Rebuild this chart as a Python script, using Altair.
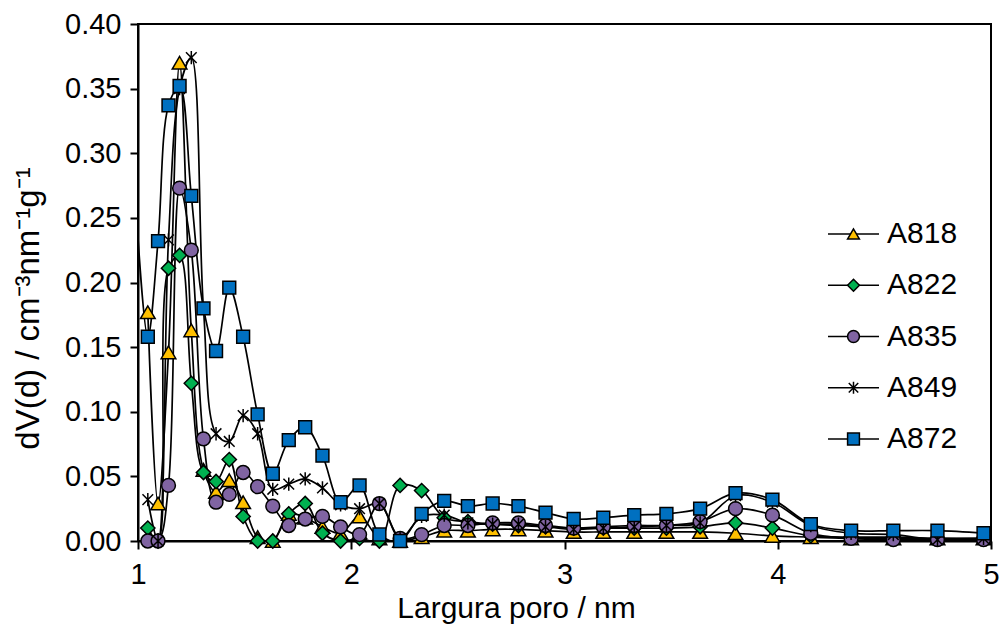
import altair as alt
import pandas as pd

# ---- data ----
SERIES = ["A818", "A822", "A835", "A849", "A872"]

PORE_X = [1.046, 1.094, 1.143, 1.195, 1.250, 1.307, 1.366, 1.428, 1.493, 1.561,
          1.632, 1.707, 1.784, 1.865, 1.950, 2.039, 2.132, 2.229, 2.330, 2.436,
          2.547, 2.663, 2.784, 2.911, 3.043, 3.182, 3.327, 3.478, 3.636, 3.802,
          3.975, 4.155, 4.344, 4.542, 4.749, 4.965]

A818 = [0.177, 0.029, 0.146, 0.370, 0.163, 0.055, 0.038, 0.047, 0.030, 0.003,
        0.000, 0.021, 0.018, 0.011, 0.006, 0.019, 0.002, 0.000, 0.003, 0.008,
        0.008, 0.009, 0.009, 0.008, 0.007, 0.007, 0.007, 0.007, 0.007, 0.006,
        0.004, 0.003, 0.002, 0.002, 0.002, 0.002]
A822 = [0.010, 0.000, 0.211, 0.221, 0.122, 0.053, 0.046, 0.063, 0.019, 0.000,
        0.000, 0.021, 0.029, 0.006, 0.000, 0.002, 0.000, 0.043, 0.039, 0.018,
        0.015, 0.013, 0.012, 0.011, 0.010, 0.010, 0.010, 0.010, 0.011, 0.014,
        0.010, 0.004, 0.003, 0.003, 0.002, 0.002]
A835 = [0.000, 0.000, 0.043, 0.273, 0.225, 0.079, 0.030, 0.036, 0.053, 0.042,
        0.027, 0.012, 0.017, 0.019, 0.011, 0.005, 0.029, 0.002, 0.005, 0.012,
        0.012, 0.014, 0.014, 0.012, 0.010, 0.011, 0.012, 0.012, 0.015, 0.025,
        0.020, 0.006, 0.002, 0.001, 0.001, 0.001]
A849 = [0.032, 0.000, 0.233, 0.350, 0.374, 0.180, 0.083, 0.077, 0.097, 0.083,
        0.040, 0.044, 0.048, 0.041, 0.028, 0.025, 0.029, 0.002, 0.019, 0.020,
        0.014, 0.013, 0.013, 0.011, 0.009, 0.010, 0.011, 0.012, 0.014, 0.035,
        0.030, 0.012, 0.006, 0.005, 0.001, 0.002]
A872 = [0.158, 0.232, 0.337, 0.352, 0.267, 0.180, 0.147, 0.196, 0.158, 0.098,
        0.052, 0.078, 0.088, 0.066, 0.030, 0.043, 0.005, 0.000, 0.021, 0.031,
        0.027, 0.029, 0.027, 0.022, 0.017, 0.018, 0.020, 0.021, 0.025, 0.037,
        0.032, 0.013, 0.008, 0.008, 0.008, 0.006]
# A872 line enters from the left of the axis (point below 1 nm, clipped)
A872_LEAD_X = [0.99]
A872_LEAD_Y = [0.26]

X_TICKS = [1, 2, 3, 4, 5]
Y_TICKS = [0.00, 0.05, 0.10, 0.15, 0.20, 0.25, 0.30, 0.35, 0.40]

FILLS = ["#FFC000", "#00B050", "#8064A2", "#000000", "#0070C0"]
ASTER = "M-0.8,-0.8L0.8,0.8M-0.8,0.8L0.8,-0.8M0,-1L0,1"
SHAPES = ["triangle-up", "diamond", "circle", ASTER, "square"]
SIZES = [215, 165, 220, 175, 235]

values = {"A818": A818, "A822": A822, "A835": A835, "A849": A849, "A872": A872}
rows = []
for k, s in enumerate(SERIES):
    if s == "A872":
        for xv, yv in zip(A872_LEAD_X, A872_LEAD_Y):
            rows.append({"x": xv, "y": yv, "series": s, "k": k})
    for xv, yv in zip(PORE_X, values[s]):
        rows.append({"x": xv, "y": yv, "series": s, "k": k})
df = pd.DataFrame(rows)
leg_df = pd.DataFrame({"series": SERIES})

FONT = "Liberation Sans"
FS = 29

xscale = alt.Scale(domain=[1, 5], nice=False, zero=False)
yscale = alt.Scale(domain=[0, 0.4], nice=False, zero=True)
shape_scale = alt.Scale(domain=SERIES, range=SHAPES)
fill_scale = alt.Scale(domain=SERIES, range=FILLS)
size_scale = alt.Scale(domain=SERIES, range=SIZES)

xaxis = alt.Axis(values=X_TICKS, format="d", title="Largura poro / nm",
                 labelFontSize=FS, titleFontSize=FS + 1, titleFontWeight="normal",
                 labelColor="black", titleColor="black", labelFont=FONT, titleFont=FONT,
                 tickSize=8, tickWidth=2, tickColor="black", domainColor="black",
                 domainWidth=2, grid=False, labelPadding=11, labelFlush=False,
                 titleX=378, titleY=76, titleBaseline="alphabetic", titleAlign="center")
yaxis = alt.Axis(values=Y_TICKS, format=".2f", title="dV(d) / cm⁻³nm⁻¹g⁻¹",
                 labelFontSize=FS, titleFontSize=33, titleFontWeight="normal",
                 labelColor="black", titleColor="black", labelFont=FONT, titleFont=FONT,
                 tickSize=8, tickWidth=2, tickColor="black", domainColor="black",
                 domainWidth=2, grid=False, labelPadding=9,
                 titleX=-110, titleY=284, titleBaseline="middle", titleAlign="center")

base = alt.Chart(df)

lines = base.mark_line(interpolate="catmull-rom", color="black", strokeWidth=1.7, clip=True).encode(
    x=alt.X("x:Q", scale=xscale, axis=xaxis),
    y=alt.Y("y:Q", scale=yscale, axis=yaxis),
    detail="series:N",
    order="x:Q",
)

points = base.transform_filter("datum.x >= 1").mark_point(
    filled=True, stroke="black", strokeWidth=1.5, opacity=1
).encode(
    x=alt.X("x:Q", scale=xscale, axis=xaxis),
    y=alt.Y("y:Q", scale=yscale, axis=yaxis),
    shape=alt.Shape("series:N", scale=shape_scale, legend=None),
    fill=alt.Fill("series:N", scale=fill_scale, legend=None),
    size=alt.Size("series:N", scale=size_scale, legend=None),
    order="k:Q",
)

main = alt.layer(lines, points)

# ---- legend drawn as marks: line + marker + label per series ----
leg_y = alt.Y("series:N", axis=None,
              scale=alt.Scale(type="point", domain=SERIES, range=[210, 415], padding=0))
leg_base = alt.Chart(leg_df)
leg_rule = leg_base.mark_rule(color="black", strokeWidth=1.7).encode(
    y=leg_y, x=alt.value(690), x2=alt.value(741))
leg_pts = leg_base.mark_point(filled=True, stroke="black", strokeWidth=1.5, opacity=1).encode(
    y=leg_y, x=alt.value(715.5),
    shape=alt.Shape("series:N", scale=shape_scale, legend=None),
    fill=alt.Fill("series:N", scale=fill_scale, legend=None),
    size=alt.value(140),
)
leg_txt = leg_base.mark_text(align="left", baseline="middle", fontSize=FS + 1, font=FONT,
                             color="black").encode(
    y=leg_y, x=alt.value(749), text="series:N")
leg = alt.layer(leg_rule, leg_pts, leg_txt)

chart = alt.layer(main, leg).resolve_scale(y="independent").properties(
    width=853, height=517,
    autosize=alt.AutoSizeParams(type="none"),
    padding={"left": 138, "top": 24, "right": 13, "bottom": 87},
    background="white",
    view=alt.ViewBackground(stroke="black", strokeWidth=2),
).configure(font=FONT).configure_view(stroke="black", strokeWidth=2)

chart.save("out.html", embed_options={"renderer": "svg", "actions": False})
